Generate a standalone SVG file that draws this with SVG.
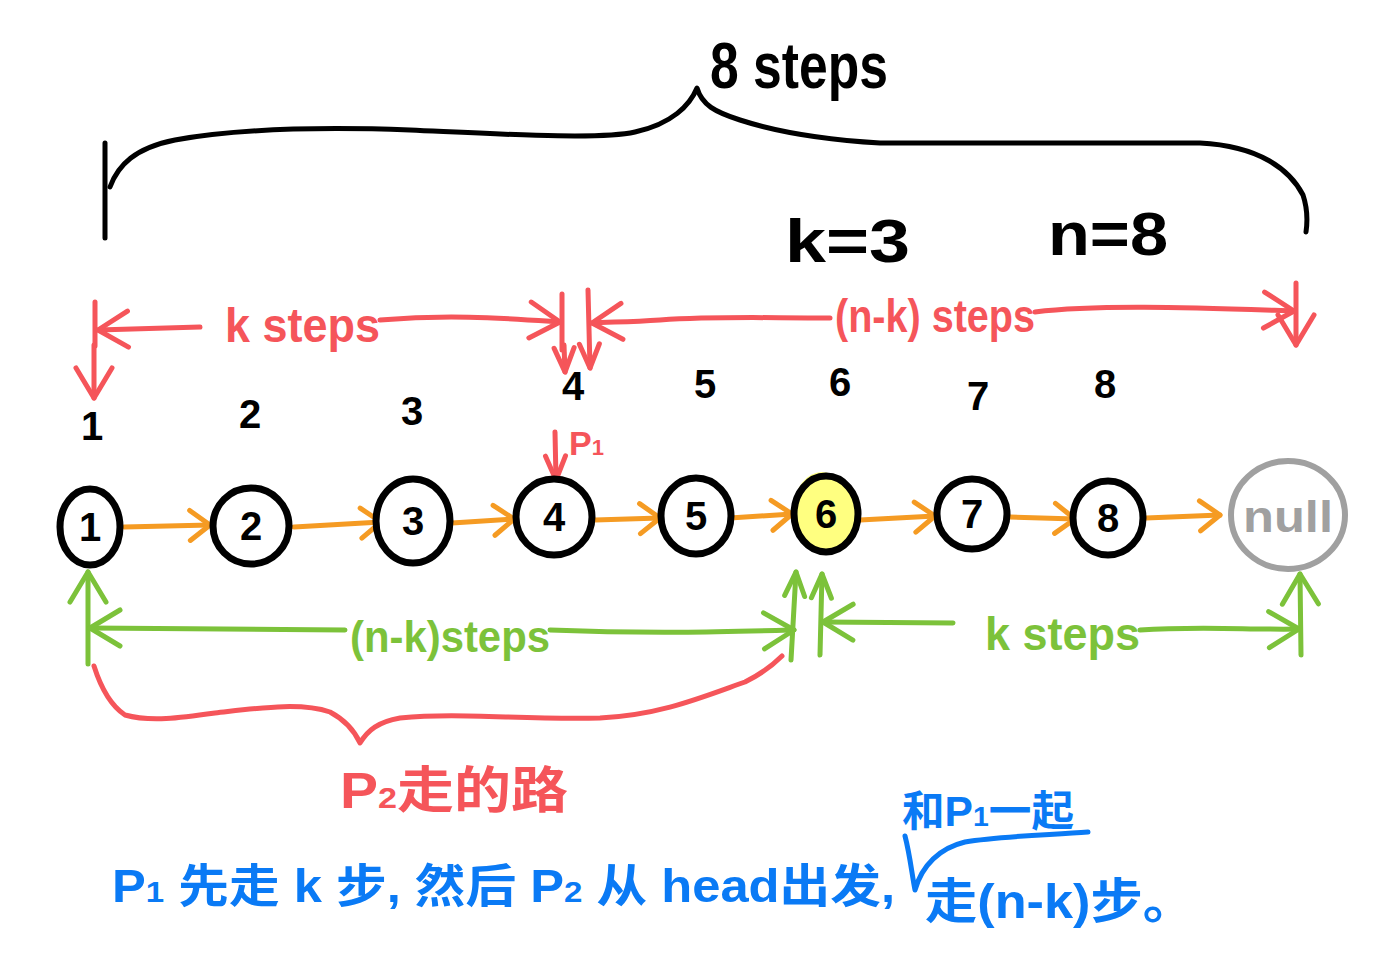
<svg xmlns="http://www.w3.org/2000/svg" width="1392" height="967" viewBox="0 0 1392 967">
<style>
.bk{fill:none;stroke:#000;stroke-width:5;stroke-linecap:round;stroke-linejoin:round}
.nd{fill:#fff;stroke:#000;stroke-width:7}
.rd{fill:none;stroke:#f5555a;stroke-width:5;stroke-linecap:round;stroke-linejoin:round}
.gr{fill:none;stroke:#7cc23a;stroke-width:5;stroke-linecap:round;stroke-linejoin:round}
.or{fill:none;stroke:#f59b23;stroke-width:5;stroke-linecap:round;stroke-linejoin:round}
.bl{fill:none;stroke:#0a7af5;stroke-width:5;stroke-linecap:round;stroke-linejoin:round}
text{font-family:"Liberation Sans","Noto Sans CJK SC",sans-serif}
.tb{fill:#000;font-weight:bold}
.tr{fill:#f5555a;font-weight:bold}
.tg{fill:#7cc23a;font-weight:bold}
.tbl{fill:#0a7af5;font-weight:bold}
.num{font-size:40px;font-weight:bold;text-anchor:middle;fill:#000}
</style>
<defs>
<marker id="ho" markerUnits="userSpaceOnUse" viewBox="-24 -18 28 36" markerWidth="28" markerHeight="36" refX="0" refY="0" orient="auto"><path d="M-20,-15 L0,0 L-20,15" fill="none" stroke="#f59b23" stroke-width="5" stroke-linecap="round" stroke-linejoin="round"/></marker>
<marker id="hr" markerUnits="userSpaceOnUse" viewBox="-34 -22 38 44" markerWidth="38" markerHeight="44" refX="0" refY="0" orient="auto"><path d="M-30,-18 L0,0 L-30,18" fill="none" stroke="#f5555a" stroke-width="5" stroke-linecap="round" stroke-linejoin="round"/></marker>
<marker id="hrs" markerUnits="userSpaceOnUse" viewBox="-28 -14 32 28" markerWidth="32" markerHeight="28" refX="0" refY="0" orient="auto"><path d="M-24,-10 L0,0 L-24,10" fill="none" stroke="#f5555a" stroke-width="5" stroke-linecap="round" stroke-linejoin="round"/></marker>
<marker id="hg" markerUnits="userSpaceOnUse" viewBox="-34 -22 38 44" markerWidth="38" markerHeight="44" refX="0" refY="0" orient="auto"><path d="M-30,-18 L0,0 L-30,18" fill="none" stroke="#7cc23a" stroke-width="5" stroke-linecap="round" stroke-linejoin="round"/></marker>
<marker id="hgs" markerUnits="userSpaceOnUse" viewBox="-28 -14 32 28" markerWidth="32" markerHeight="28" refX="0" refY="0" orient="auto"><path d="M-24,-10 L0,0 L-24,10" fill="none" stroke="#7cc23a" stroke-width="5" stroke-linecap="round" stroke-linejoin="round"/></marker>
</defs>
<rect width="1392" height="967" fill="#fff"/>

<g id="top-brace">
<path class="bk" d="M105,143 L105,238"/>
<path class="bk" d="M110,187 C118,165 135,148 175,140 C230,130 300,126 410,130 C500,134 600,140 635,132 C672,124 690,105 697,88 C702,105 715,112 740,120 C780,133 830,140 880,143 L1200,143 C1260,146 1290,170 1303,195 C1308,210 1307,225 1306,232"/>
<text class="tb" x="710" y="88" font-size="64" textLength="178" lengthAdjust="spacingAndGlyphs">8 steps</text>
<text class="tb" x="785" y="262" font-size="62" textLength="125" lengthAdjust="spacingAndGlyphs">k=3</text>
<text class="tb" x="1048" y="255" font-size="62" textLength="120" lengthAdjust="spacingAndGlyphs">n=8</text>
</g>

<g id="red-marks">
<path class="rd" d="M95,302 L95,346"/>
<path class="rd" d="M94,345 L94,398" marker-end="url(#hr)"/>
<path class="rd" d="M200,327 L98,330" marker-end="url(#hr)"/>
<text class="tr" x="225" y="342" font-size="48" textLength="155" lengthAdjust="spacingAndGlyphs">k steps</text>
<path class="rd" d="M380,320 C450,314 500,318 560,322" marker-end="url(#hr)"/>
<path class="rd" d="M562,294 L562,350"/>
<path class="rd" d="M564,345 L565,372" marker-end="url(#hrs)"/>
<path class="rd" d="M588,290 L590,368" marker-end="url(#hrs)"/>
<path class="rd" d="M830,318 C760,318 720,316 660,320 C630,322 610,322 592,323" marker-end="url(#hr)"/>
<text class="tr" x="835" y="332" font-size="46" textLength="200" lengthAdjust="spacingAndGlyphs">(n-k) steps</text>
<path class="rd" d="M1035,312 C1100,304 1200,308 1294,311" marker-end="url(#hr)"/>
<path class="rd" d="M1296,283 L1296,345" marker-end="url(#hr)"/>
<text class="tr" x="569" y="455" font-size="34">P<tspan font-size="22">1</tspan></text>
<path class="rd" d="M555,432 L556,480" marker-end="url(#hrs)"/>
</g>

<g id="index-labels">
<text class="num" x="92" y="440" font-size="34">1</text>
<text class="num" x="250" y="428">2</text>
<text class="num" x="412" y="425">3</text>
<text class="num" x="573" y="400" font-size="32">4</text>
<text class="num" x="705" y="398" font-size="36">5</text>
<text class="num" x="840" y="396">6</text>
<text class="num" x="978" y="410" font-size="54">7</text>
<text class="num" x="1105" y="398" font-size="48">8</text>
</g>

<g id="connectors">
<path class="or" d="M124,527 L210,525" marker-end="url(#ho)"/>
<path class="or" d="M294,527 L381,522" marker-end="url(#ho)"/>
<path class="or" d="M452,523 L514,519" marker-end="url(#ho)"/>
<path class="or" d="M595,520 L660,518" marker-end="url(#ho)"/>
<path class="or" d="M730,518 L792,514" marker-end="url(#ho)"/>
<path class="or" d="M860,520 L935,516" marker-end="url(#ho)"/>
<path class="or" d="M1010,517 L1075,519" marker-end="url(#ho)"/>
<path class="or" d="M1146,518 L1220,515" marker-end="url(#ho)"/>
</g>

<g id="node-1"><ellipse class="nd" cx="90" cy="527" rx="30" ry="38"/><text class="num" x="90" y="541">1</text></g>
<g id="node-2"><ellipse class="nd" cx="251" cy="526" rx="38" ry="38"/><text class="num" x="251" y="540">2</text></g>
<g id="node-3"><ellipse class="nd" cx="413" cy="521" rx="37" ry="42"/><text class="num" x="413" y="535">3</text></g>
<g id="node-4"><ellipse class="nd" cx="554" cy="517" rx="38" ry="38"/><text class="num" x="554" y="531">4</text></g>
<g id="node-5"><ellipse class="nd" cx="696" cy="516" rx="35" ry="38"/><text class="num" x="696" y="530">5</text></g>
<g id="node-6"><ellipse cx="822" cy="508" rx="28" ry="36" fill="#ffff80"/><ellipse cx="826" cy="514" rx="32" ry="38" fill="#ffff80" stroke="#000" stroke-width="7"/><text class="num" x="826" y="528">6</text></g>
<g id="node-7"><ellipse class="nd" cx="972" cy="514" rx="35" ry="35"/><text class="num" x="972" y="528">7</text></g>
<g id="node-8"><ellipse class="nd" cx="1108" cy="518" rx="35" ry="37"/><text class="num" x="1108" y="532">8</text></g>
<g id="node-null"><ellipse cx="1288" cy="515" rx="57" ry="54" fill="#fff" stroke="#a0a0a0" stroke-width="6"/><text x="1288" y="532" font-size="44" font-weight="bold" fill="#a0a0a0" text-anchor="middle" textLength="90" lengthAdjust="spacingAndGlyphs">null</text></g>

<g id="green-marks">
<path class="gr" d="M88,664 L88,572" marker-end="url(#hg)"/>
<path class="gr" d="M345,630 C250,629 150,628 90,628" marker-end="url(#hg)"/>
<text class="tg" x="350" y="652" font-size="44" textLength="200" lengthAdjust="spacingAndGlyphs">(n-k)steps</text>
<path class="gr" d="M550,630 C650,634 720,632 794,630" marker-end="url(#hg)"/>
<path class="gr" d="M791,660 L796,572" marker-end="url(#hgs)"/>
<path class="gr" d="M820,655 L822,574" marker-end="url(#hgs)"/>
<path class="gr" d="M953,623 L823,622" marker-end="url(#hg)"/>
<text class="tg" x="985" y="650" font-size="46" textLength="155" lengthAdjust="spacingAndGlyphs">k steps</text>
<path class="gr" d="M1140,630 C1200,626 1250,630 1299,629" marker-end="url(#hg)"/>
<path class="gr" d="M1301,655 L1300,574" marker-end="url(#hg)"/>
</g>

<g id="bottom-brace">
<path class="rd" d="M94,666 C100,685 110,705 125,715 C150,722 180,718 215,713 C260,708 300,702 330,712 C345,720 355,732 360,743 C368,730 378,722 400,718 C460,712 520,720 600,718 C660,715 700,698 745,682 C765,672 778,660 782,656"/>
<text class="tr" x="340" y="808" font-size="50" textLength="228" lengthAdjust="spacingAndGlyphs">P<tspan font-size="30">2</tspan>走的路</text>
</g>

<g id="note">
<text class="tbl" x="112" y="902" font-size="46" textLength="783" lengthAdjust="spacingAndGlyphs">P<tspan font-size="30">1</tspan> 先走 k 步, 然后 P<tspan font-size="30">2</tspan> 从 head出发,</text>
<text class="tbl" x="902" y="826" font-size="42" textLength="172" lengthAdjust="spacingAndGlyphs">和P<tspan font-size="28">1</tspan>一起</text>
<path class="bl" d="M905,836 C910,855 912,875 915,890 C922,865 940,848 965,842 C1000,836 1050,835 1088,832"/>
<text class="tbl" x="925" y="918" font-size="48" textLength="270" lengthAdjust="spacingAndGlyphs">走(n-k)步。</text>
</g>
</svg>
